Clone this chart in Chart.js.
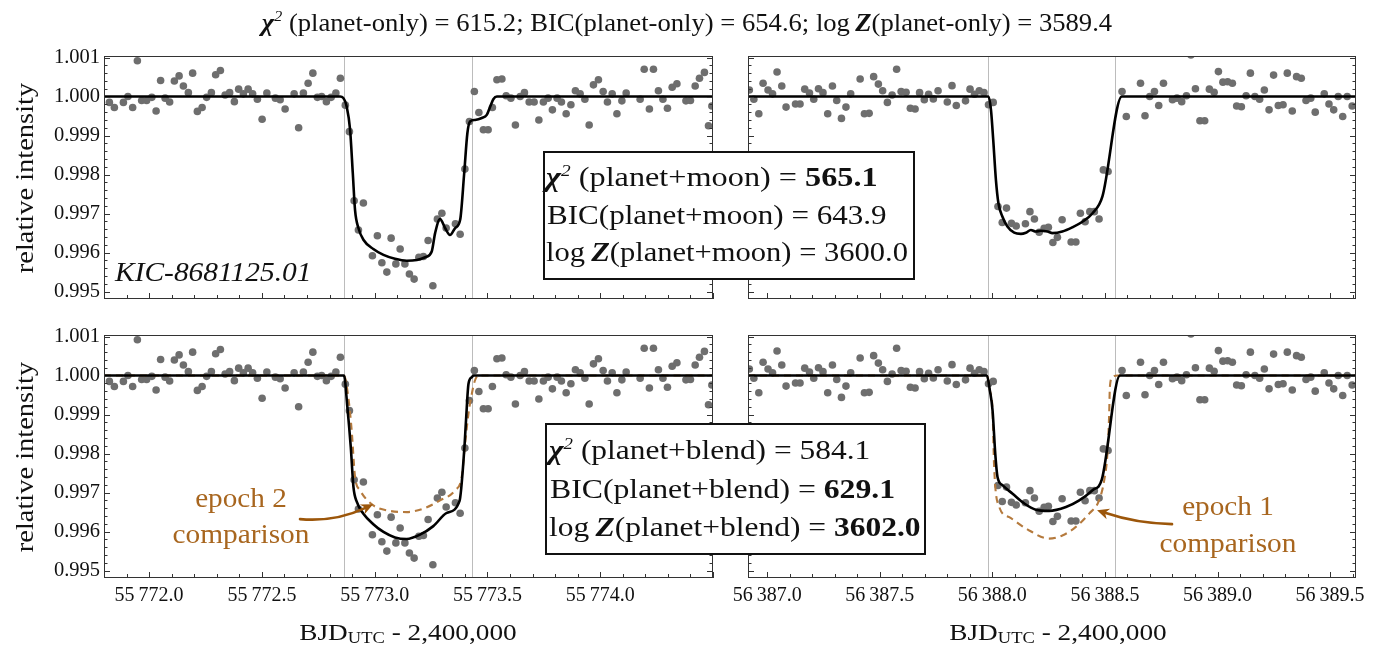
<!DOCTYPE html>
<html>
<head>
<meta charset="utf-8">
<script src="https://cdn.jsdelivr.net/npm/chart.js@4.4.1/dist/chart.umd.min.js"></script>
<style>
  html, body { margin: 0; padding: 0; background: #fff; }
  body { width: 1381px; height: 655px; position: relative; overflow: hidden;
         font-family: "Liberation Serif", "Times New Roman", serif; color: #111; }
  canvas { position: absolute; }
  .txt { position: absolute; white-space: nowrap; line-height: 1; z-index: 5; }
  .box { position: absolute; background: #fff; border: 2px solid #111; box-sizing: border-box; z-index: 4; }
  .bx { font-weight: bold; font-style: italic; }
  .sq { font-size: 0.6em; vertical-align: 0.62em; line-height: 0; font-style: italic; }
  .sub { font-size: 0.68em; vertical-align: -0.18em; line-height: 0; }
</style>
</head>
<body>
<canvas id="cTL" width="720" height="280" style="left:0;top:36px"></canvas>
<canvas id="cTR" width="661" height="280" style="left:720px;top:36px"></canvas>
<canvas id="cBL" width="720" height="340" style="left:0;top:315px"></canvas>
<canvas id="cBR" width="661" height="340" style="left:720px;top:315px"></canvas>
<div class="box" style="left:543px;top:151px;width:372px;height:129px"></div>
<div class="box" style="left:545px;top:423px;width:381px;height:132px"></div>
<script>
// ---- epoch 2 light curve (BJD - 2,400,000, relative flux) ----
const epoch2Time = [55771.824, 55771.846, 55771.886, 55771.906, 55771.927, 55771.948, 55771.967, 55771.989,
  55772.012, 55772.031, 55772.051, 55772.071, 55772.091, 55772.112, 55772.133, 55772.152, 55772.174, 55772.193,
  55772.214, 55772.235, 55772.255, 55772.276, 55772.295, 55772.316, 55772.337, 55772.357, 55772.378, 55772.397,
  55772.418, 55772.439, 55772.459, 55772.480, 55772.501, 55772.522, 55772.560, 55772.581, 55772.603, 55772.643,
  55772.663, 55772.684, 55772.705, 55772.726, 55772.746, 55772.765, 55772.786, 55772.807, 55772.828, 55772.848,
  55772.870, 55772.888, 55772.909, 55772.928, 55772.950, 55772.990, 55773.012, 55773.032, 55773.054, 55773.073,
  55773.094, 55773.113, 55773.134, 55773.154, 55773.175, 55773.196, 55773.216, 55773.237, 55773.258, 55773.278,
  55773.298, 55773.317, 55773.358, 55773.379, 55773.400, 55773.420, 55773.442, 55773.462, 55773.482, 55773.503,
  55773.522, 55773.542, 55773.564, 55773.583, 55773.604, 55773.624, 55773.645, 55773.664, 55773.685, 55773.707,
  55773.728, 55773.748, 55773.769, 55773.788, 55773.809, 55773.828, 55773.849, 55773.870, 55773.890, 55773.911,
  55773.932, 55773.951, 55773.970, 55773.992, 55774.013, 55774.032, 55774.053, 55774.074, 55774.096, 55774.115,
  55774.177, 55774.195, 55774.218, 55774.236, 55774.258, 55774.278, 55774.298, 55774.319, 55774.340, 55774.380,
  55774.400, 55774.421, 55774.440, 55774.462, 55774.480, 55774.495];
const epoch2Flux = [0.99985, 0.99972, 0.99985, 1.00000, 0.99972, 1.00092, 0.99990, 0.99990,
  0.99998, 0.99963, 1.00041, 0.99996, 0.99986, 1.00040, 1.00053, 1.00027, 1.00010, 1.00060,
  0.99962, 0.99972, 0.99998, 1.00010, 1.00056, 1.00067, 1.00004, 1.00010, 0.99987, 1.00019,
  1.00007, 1.00019, 1.00007, 0.99993, 0.99942, 1.00009, 0.99996, 0.99992, 0.99968, 1.00007,
  0.99920, 1.00009, 1.00034, 1.00060, 0.99998, 1.00000, 0.99987, 0.99998, 1.00009, 1.00047,
  0.99978, 0.99910, 0.99733, 0.99658, 0.99727, 0.99592, 0.99643, 0.99574, 0.99550, 0.99637,
  0.99571, 0.99609, 0.99571, 0.99545, 0.99532, 0.99588, 0.99590, 0.99631, 0.99515, 0.99686,
  0.99701, 0.99663, 0.99674, 0.99647, 0.99814, 0.99936, 1.00013, 0.99959, 0.99915, 0.99915,
  0.99972, 1.00043, 1.00045, 1.00002, 0.99996, 0.99927, 1.00000, 1.00010, 0.99986, 0.99986,
  0.99940, 0.99986, 0.99996, 0.99966, 0.99996, 0.99986, 0.99956, 0.99979, 1.00015, 1.00007,
  0.99993, 0.99927, 1.00030, 1.00043, 1.00013, 0.99986, 1.00007, 0.99956, 0.99989, 1.00009,
  0.99993, 1.00070, 0.99968, 1.00070, 1.00015, 0.99993, 0.99970, 1.00024, 1.00033, 0.99989,
  0.99990, 1.00027, 1.00047, 1.00062, 0.99925, 0.99976];

// ---- epoch 1 light curve ----
const epoch1Time = [56386.921, 56386.941, 56386.963, 56386.982, 56387.004, 56387.024, 56387.044, 56387.065,
  56387.084, 56387.126, 56387.146, 56387.167, 56387.188, 56387.207, 56387.228, 56387.248, 56387.269, 56387.290,
  56387.309, 56387.330, 56387.350, 56387.371, 56387.413, 56387.432, 56387.453, 56387.473, 56387.494, 56387.513,
  56387.534, 56387.555, 56387.575, 56387.595, 56387.617, 56387.636, 56387.657, 56387.677, 56387.698, 56387.717,
  56387.738, 56387.759, 56387.800, 56387.821, 56387.840, 56387.881, 56387.901, 56387.921, 56387.942, 56387.963,
  56387.983, 56388.004, 56388.025, 56388.044, 56388.063, 56388.085, 56388.106, 56388.147, 56388.167, 56388.187,
  56388.208, 56388.230, 56388.249, 56388.269, 56388.289, 56388.310, 56388.350, 56388.371, 56388.391, 56388.412,
  56388.433, 56388.453, 56388.474, 56388.493, 56388.514, 56388.576, 56388.595, 56388.658, 56388.678, 56388.699,
  56388.720, 56388.739, 56388.760, 56388.800, 56388.820, 56388.841, 56388.862, 56388.882, 56388.902, 56388.922,
  56388.943, 56388.964, 56388.985, 56389.004, 56389.024, 56389.045, 56389.066, 56389.085, 56389.106, 56389.127,
  56389.146, 56389.166, 56389.187, 56389.208, 56389.229, 56389.249, 56389.270, 56389.291, 56389.310, 56389.332,
  56389.351, 56389.372, 56389.393, 56389.414, 56389.434, 56389.474, 56389.495, 56389.516, 56389.536, 56389.556,
  56389.576, 56389.598];
const epoch1Flux = [1.00017, 0.99993, 0.99956, 1.00034, 1.00017, 1.00007, 1.00063, 1.00027,
  0.99973, 0.99981, 0.99981, 1.00019, 1.00009, 0.99993, 1.00020, 1.00010, 0.99956, 1.00027,
  0.99990, 0.99944, 0.99973, 1.00007, 1.00045, 0.99956, 0.99957, 1.00051, 1.00032, 1.00015,
  0.99985, 1.00004, 1.00070, 1.00013, 1.00011, 0.99970, 0.99968, 1.00010, 0.99992, 1.00006,
  0.99994, 1.00015, 0.99986, 1.00028, 0.99977, 0.99989, 1.00019, 1.00006, 1.00015, 1.00010,
  0.99979, 0.99985, 0.99718, 0.99677, 0.99714, 0.99675, 0.99668, 0.99674, 0.99705, 0.99686,
  0.99652, 0.99662, 0.99665, 0.99626, 0.99639, 0.99684, 0.99627, 0.99627, 0.99701, 0.99679,
  0.99705, 0.99705, 0.99686, 0.99812, 0.99808, 1.00013, 0.99949, 1.00034, 0.99951, 1.00000,
  1.00013, 0.99977, 1.00034, 0.99992, 0.99996, 0.99987, 1.00002, 1.00107, 1.00020, 0.99938,
  0.99938, 1.00019, 1.00011, 1.00064, 1.00037, 1.00038, 1.00034, 0.99976, 0.99974, 1.00002,
  1.00060, 1.00000, 0.99993, 1.00017, 0.99966, 1.00055, 0.99977, 0.99979, 1.00060, 0.99963,
  1.00051, 1.00047, 0.99990, 0.99996, 0.99960, 1.00007, 0.99981, 0.99966, 1.00000, 0.99949,
  1.00000, 0.99976];

// ---- planet+moon model, both epochs ----
const moonModel2Time = [55771.8, 55772.847, 55772.860, 55772.876, 55772.891, 55772.903, 55772.913, 55772.928,
  55772.950, 55772.994, 55773.039, 55773.090, 55773.142, 55773.187, 55773.224, 55773.253, 55773.268, 55773.290,
  55773.312, 55773.334, 55773.357, 55773.379, 55773.397, 55773.411, 55773.423, 55773.445, 55773.475, 55773.497,
  55773.512, 55773.526, 55773.542, 55774.5];
const moonModel2Flux = [1, 1, 0.99997, 0.99974, 0.99915, 0.99804, 0.99709, 0.99663,
  0.99633, 0.99609, 0.99594, 0.99584, 0.99579, 0.99581, 0.99588, 0.99603, 0.99650, 0.99686,
  0.99663, 0.99645, 0.99663, 0.99684, 0.99804, 0.99906, 0.99936, 0.99940, 0.99945, 0.99953,
  0.99974, 0.99993, 1, 1];
const moonModel1Time = [56386.915, 56387.983, 56387.994, 56388.004, 56388.016, 56388.027, 56388.045, 56388.067,
  56388.097, 56388.127, 56388.149, 56388.171, 56388.193, 56388.216, 56388.245, 56388.267, 56388.311, 56388.356,
  56388.400, 56388.445, 56388.489, 56388.575, 56389.615];
const moonModel1Flux = [1, 1, 0.99966, 0.99889, 0.99786, 0.99727, 0.99692, 0.99667,
  0.99651, 0.99648, 0.99651, 0.99658, 0.99654, 0.99656, 0.99654, 0.99650, 0.99654, 0.99665,
  0.99679, 0.99701, 0.99744, 1, 1];

// ---- planet+blend model, both epochs ----
const blendModel2Time = [55771.8, 55772.864, 55772.879, 55772.894, 55772.906, 55772.921, 55772.950, 55772.994,
  55773.039, 55773.090, 55773.142, 55773.201, 55773.260, 55773.320, 55773.376, 55773.397, 55773.405, 55773.416,
  55773.431, 55773.438, 55774.5];
const blendModel2Flux = [1, 1, 0.99919, 0.99817, 0.99714, 0.99676, 0.99646, 0.99619,
  0.99599, 0.99585, 0.99581, 0.99592, 0.99614, 0.99648, 0.99678, 0.99808, 0.99885, 0.99979,
  0.99996, 1, 1];
const blendModel1Time = [56386.915, 56387.976, 56387.989, 56388.001, 56388.013, 56388.023, 56388.045, 56388.090,
  56388.142, 56388.193, 56388.252, 56388.327, 56388.386, 56388.445, 56388.486, 56388.567, 56389.615];
const blendModel1Flux = [1, 1, 0.99962, 0.99911, 0.99800, 0.99740, 0.99719, 0.99697,
  0.99672, 0.99656, 0.99653, 0.99663, 0.99680, 0.99706, 0.99733, 1, 1];

// ---- blend model of the other epoch, shown for comparison ----
const compare2Time = [55771.8, 55772.864, 55772.883, 55772.898, 55772.913, 55772.935, 55772.994, 55773.068,
  55773.142, 55773.216, 55773.290, 55773.357, 55773.386, 55773.401, 55773.416, 55773.431, 55773.445, 55773.460, 55774.5];
const compare2Flux = [1, 1, 0.99945, 0.99860, 0.99740, 0.99706, 0.99667, 0.99653,
  0.99650, 0.99659, 0.99680, 0.99706, 0.99740, 0.99826, 0.99903, 0.99954, 0.99988, 1, 1];
const compare1Time = [56386.915, 56387.976, 56387.989, 56388.001, 56388.008, 56388.031, 56388.075, 56388.149,
  56388.252, 56388.311, 56388.371, 56388.430, 56388.474, 56388.497, 56388.511, 56388.519, 56388.522, 56388.533,
  56388.556, 56389.615];
const compare1Flux = [1, 1, 0.99962, 0.99911, 0.99766, 0.99663, 0.99637, 0.99608,
  0.99582, 0.99590, 0.99612, 0.99646, 0.99680, 0.99732, 0.99800, 0.99903, 0.99971, 0.99996,
  1, 1];

// ---- contact times, axis ticks ----
const epoch2Contacts = [55772.865, 55773.431];
const epoch1Contacts = [56387.979, 56388.544];
const epoch2TickLabels = [55772.0, 55772.5, 55773.0, 55773.5, 55774.0];
const epoch1TickLabels = [56387.0, 56387.5, 56388.0, 56388.5, 56389.0, 56389.5];
const fluxTicks = [0.995, 0.996, 0.997, 0.998, 0.999, 1.000, 1.001];

const FONT = '"Liberation Serif", "Times New Roman", serif';
const BROWN_TEXT = '#a8661f';
const BROWN_ARROW = '#9c560a';
const BROWN_DASH = '#b57a3d';

Chart.defaults.font.family = FONT;
Chart.defaults.color = '#111';

function zip(xs, ys) { return xs.map((x, i) => ({ x: x, y: ys[i] })); }

function makePanel(id, p) {
  const datasets = [{
    data: zip(p.model[0], p.model[1]), showLine: true, pointRadius: 0, borderColor: '#000',
    borderWidth: 2.6, cubicInterpolationMode: 'monotone', fill: false, order: 0
  }];
  if (p.compare) {
    datasets.push({
      data: zip(p.compare[0], p.compare[1]), showLine: true, pointRadius: 0, borderColor: BROWN_DASH,
      borderWidth: 2.1, borderDash: [7, 5], cubicInterpolationMode: 'monotone', fill: false, order: 1
    });
  }
  datasets.push({
    data: zip(p.points[0], p.points[1]), showLine: false, pointRadius: 3.8, pointHoverRadius: 3.8,
    backgroundColor: '#6e6e6e', borderWidth: 0, order: 2
  });

  // gray contact lines behind the data
  const contactPlugin = {
    id: 'contacts',
    beforeDatasetsDraw(chart) {
      const ctx = chart.ctx, a = chart.chartArea, xs = chart.scales.x;
      ctx.save();
      ctx.strokeStyle = '#bcbcbc'; ctx.lineWidth = 1;
      p.contacts.forEach(t => {
        const px = Math.round(xs.getPixelForValue(t)) + 0.5;
        ctx.beginPath(); ctx.moveTo(px, a.top); ctx.lineTo(px, a.bottom); ctx.stroke();
      });
      ctx.restore();
    }
  };

  // frame with inward major/minor tick marks
  const framePlugin = {
    id: 'frame',
    afterDraw(chart) {
      const ctx = chart.ctx, a = chart.chartArea, xs = chart.scales.x, ys = chart.scales.y;
      ctx.save();
      ctx.strokeStyle = '#333'; ctx.lineWidth = 1;
      ctx.strokeRect(a.left + 0.5, a.top + 0.5, a.right - a.left - 1, a.bottom - a.top - 1);
      ctx.beginPath();
      for (let k = 0; k <= 30; k++) {
        const v = 0.995 + k * 0.0002;
        const py = Math.round(ys.getPixelForValue(v)) + 0.5;
        const L = (k % 5 === 0) ? 6 : 3.5;
        ctx.moveTo(a.left, py); ctx.lineTo(a.left + L, py);
        ctx.moveTo(a.right, py); ctx.lineTo(a.right - L, py);
      }
      const n0 = Math.ceil(xs.min * 10 - 1e-6), n1 = Math.floor(xs.max * 10 + 1e-6);
      for (let n = n0; n <= n1; n++) {
        const px = Math.round(xs.getPixelForValue(n / 10)) + 0.5;
        const L = (n % 5 === 0) ? 6 : 4;
        ctx.moveTo(px, a.bottom); ctx.lineTo(px, a.bottom - L);
      }
      ctx.stroke();
      ctx.restore();
    }
  };

  // curved annotation arrow, anchored in data coordinates
  const arrowPlugin = {
    id: 'arrowNote',
    afterDatasetsDraw(chart) {
      if (!p.arrow) return;
      const ctx = chart.ctx, xs = chart.scales.x, ys = chart.scales.y;
      const P = p.arrow.map(q => [xs.getPixelForValue(q[0]), ys.getPixelForValue(q[1])]);
      const a = P[0], c = P[1], b = P[2];
      const ang = Math.atan2(b[1] - c[1], b[0] - c[0]);
      const hl = 12, hw = 5.5;
      const base = [b[0] - hl * 0.7 * Math.cos(ang), b[1] - hl * 0.7 * Math.sin(ang)];
      const back = [b[0] - hl * Math.cos(ang), b[1] - hl * Math.sin(ang)];
      ctx.save();
      ctx.strokeStyle = BROWN_ARROW; ctx.fillStyle = BROWN_ARROW;
      ctx.lineWidth = 2.6; ctx.lineCap = 'round';
      ctx.beginPath(); ctx.moveTo(a[0], a[1]); ctx.quadraticCurveTo(c[0], c[1], base[0], base[1]); ctx.stroke();
      ctx.beginPath();
      ctx.moveTo(b[0], b[1]);
      ctx.lineTo(back[0] + hw * Math.sin(ang), back[1] - hw * Math.cos(ang));
      ctx.lineTo(base[0], base[1]);
      ctx.lineTo(back[0] - hw * Math.sin(ang), back[1] + hw * Math.cos(ang));
      ctx.closePath(); ctx.fill();
      ctx.restore();
    }
  };

  return new Chart(document.getElementById(id), {
    type: 'scatter',
    data: { datasets: datasets },
    plugins: [contactPlugin, arrowPlugin, framePlugin],
    options: {
      responsive: false, maintainAspectRatio: false, animation: false, events: [],
      layout: { padding: { top: p.padTop, right: p.padRight, left: 0, bottom: 0 } },
      plugins: { legend: { display: false }, tooltip: { enabled: false }, title: { display: false } },
      scales: {
        x: {
          type: 'linear', position: 'bottom', min: p.xRange[0], max: p.xRange[1],
          grid: { display: false, drawTicks: false }, border: { display: false },
          afterBuildTicks: s => { s.ticks = p.xTicks.map(v => ({ value: v })); },
          afterFit: s => { s.height = p.axisH; },
          ticks: {
            display: p.xLabels, autoSkip: false, maxRotation: 0, padding: 6,
            font: { size: 20, family: FONT }, color: '#111',
            callback: v => { const s = v.toFixed(1); return s.slice(0, 2) + '\u2009' + s.slice(2); }
          }
        },
        y: {
          type: 'linear', position: 'left', min: 0.99481, max: 1.00104,
          grid: { display: false, drawTicks: false }, border: { display: false },
          afterBuildTicks: s => { s.ticks = fluxTicks.map(v => ({ value: v })); },
          afterFit: s => { s.width = p.axisW; },
          ticks: {
            display: p.yLabels, padding: 4, font: { size: 20.5, family: FONT }, color: '#111',
            callback: v => v.toFixed(3)
          }
        }
      }
    }
  });
}

const range2 = [55771.8, 55774.5];
const range1 = [56386.915, 56389.615];

makePanel('cTL', { points: [epoch2Time, epoch2Flux], model: [moonModel2Time, moonModel2Flux],
  contacts: epoch2Contacts, xRange: range2, xTicks: epoch2TickLabels, xLabels: false, yLabels: true,
  padTop: 20, padRight: 7, axisW: 104, axisH: 17 });
makePanel('cTR', { points: [epoch1Time, epoch1Flux], model: [moonModel1Time, moonModel1Flux],
  contacts: epoch1Contacts, xRange: range1, xTicks: epoch1TickLabels, xLabels: false, yLabels: false,
  padTop: 20, padRight: 25, axisW: 28, axisH: 17 });
makePanel('cBL', { points: [epoch2Time, epoch2Flux], model: [blendModel2Time, blendModel2Flux],
  compare: [compare2Time, compare2Flux],
  arrow: [[55772.669, 0.99632], [55772.824, 0.99624], [55772.993, 0.99670]],
  contacts: epoch2Contacts, xRange: range2, xTicks: epoch2TickLabels, xLabels: true, yLabels: true,
  padTop: 20, padRight: 7, axisW: 104, axisH: 77 });
makePanel('cBR', { points: [epoch1Time, epoch1Flux], model: [blendModel1Time, blendModel1Flux],
  compare: [compare1Time, compare1Flux],
  arrow: [[56388.798, 0.99619], [56388.638, 0.99621], [56388.465, 0.99655]],
  contacts: epoch1Contacts, xRange: range1, xTicks: epoch1TickLabels, xLabels: true, yLabels: false,
  padTop: 20, padRight: 25, axisW: 28, axisH: 77 });

// ---- text: placed by anchor point, stretched to the given width ----
function putText(html, o) {
  const el = document.createElement('div');
  el.className = 'txt';
  el.innerHTML = html;
  el.style.fontSize = o.size + 'px';
  el.style.left = o.x + 'px';
  el.style.top = o.y + 'px';
  if (o.color) el.style.color = o.color;
  if (o.italic) el.style.fontStyle = 'italic';
  document.body.appendChild(el);
  const natural = el.offsetWidth;
  const s = o.w ? o.w / natural : 1;
  if (o.anchor === 'l') {
    el.style.transformOrigin = 'left center';
    el.style.transform = 'translate(0,-50%) scaleX(' + s + ')';
  } else {
    el.style.transform = 'translate(-50%,-50%)' + (o.rot ? ' rotate(-90deg)' : '') + ' scaleX(' + s + ')';
  }
  return el;
}

const chi = '<span class="bx">&chi;</span><span class="sq">2</span>';
const logZ = 'log<span class="bx">&thinsp;Z</span>';

putText(chi + ' (planet-only) = 615.2; BIC(planet-only) = 654.6; ' + logZ + '(planet-only) = 3589.4',
  { x: 687, y: 21.5, size: 25, w: 850 });

putText(chi + ' (planet+moon) = <b>565.1</b>', { x: 546, y: 177, size: 27.5, w: 332, anchor: 'l' });
putText('BIC(planet+moon) = 643.9', { x: 547, y: 215, size: 27.5, w: 340, anchor: 'l' });
putText(logZ + '(planet+moon) = 3600.0', { x: 546, y: 252, size: 27.5, w: 362, anchor: 'l' });

putText(chi + ' (planet+blend) = 584.1', { x: 549, y: 450, size: 27.5, w: 321, anchor: 'l' });
putText('BIC(planet+blend) = <b>629.1</b>', { x: 550, y: 488.5, size: 27.5, w: 345, anchor: 'l' });
putText(logZ + '(planet+blend) = <b>3602.0</b>', { x: 549, y: 527, size: 27.5, w: 371, anchor: 'l' });

putText('relative intensity', { x: 24, y: 178, size: 25, w: 190, rot: true });
putText('relative intensity', { x: 24, y: 457, size: 25, w: 190, rot: true });

putText('KIC-8681125.01', { x: 115, y: 272, size: 27.5, w: 197, anchor: 'l', italic: true });

putText('epoch 2', { x: 241, y: 498, size: 27, w: 92, color: BROWN_TEXT });
putText('comparison', { x: 241, y: 534, size: 27, w: 137, color: BROWN_TEXT });
putText('epoch 1', { x: 1228, y: 506, size: 27, w: 92, color: BROWN_TEXT });
putText('comparison', { x: 1228, y: 543, size: 27, w: 137, color: BROWN_TEXT });

const bjd = 'BJD<span class="sub">UTC</span> - 2,400,000';
putText(bjd, { x: 408, y: 631.5, size: 24, w: 217 });
putText(bjd, { x: 1058, y: 631.5, size: 24, w: 217 });
</script>
</body>
</html>
